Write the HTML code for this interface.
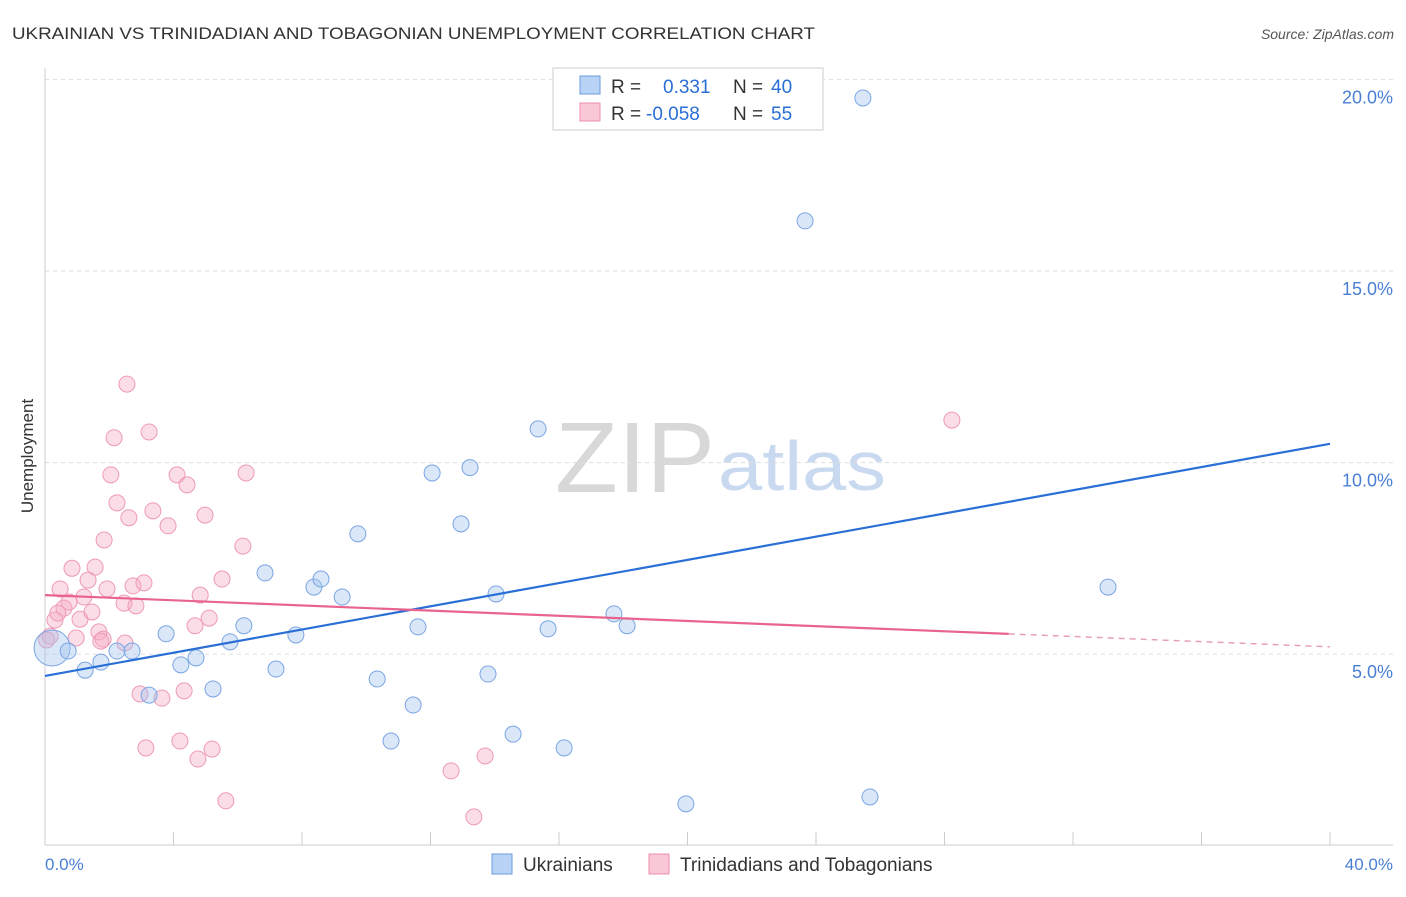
<!DOCTYPE html>
<html><head><meta charset="utf-8"><style>
body{margin:0;background:#fff;font-family:"Liberation Sans",sans-serif;}
svg text{font-family:"Liberation Sans",sans-serif;}
</style></head><body>
<svg id="chart" width="1406" height="892" viewBox="0 0 1406 892" xmlns="http://www.w3.org/2000/svg">
<text x="12" y="39" font-size="17" fill="#333" textLength="803" lengthAdjust="spacingAndGlyphs">UKRAINIAN VS TRINIDADIAN AND TOBAGONIAN UNEMPLOYMENT CORRELATION CHART</text>
<text x="1394" y="39" font-size="14" fill="#555" font-style="italic" text-anchor="end">Source: ZipAtlas.com</text>
<g>
<text x="635" y="492" font-size="100" font-family="Liberation Serif" fill="#d8d8d8" text-anchor="middle" textLength="160" lengthAdjust="spacingAndGlyphs">ZIP</text>
<text x="802" y="490" font-size="70" fill="#c9d9f0" text-anchor="middle" textLength="168" lengthAdjust="spacingAndGlyphs">atlas</text>
</g>
<g id="grid"></g>
<line x1="45" y1="68" x2="45" y2="845" stroke="#ccc"/>
<line x1="45" y1="845" x2="1393" y2="845" stroke="#ccc"/>
<g id="xticks"></g>
<text transform="translate(33,456) rotate(-90)" font-size="17" fill="#333" text-anchor="middle">Unemployment</text>
<text x="45" y="870" font-size="17" fill="#4a7fd4">0.0%</text>
<text x="1393" y="870" font-size="17" fill="#4a7fd4" text-anchor="end">40.0%</text>
<g id="pts"></g>
<g id="lines"></g>
<g>
<rect x="553" y="68" width="270" height="62" fill="#fff" stroke="#ccc"/>
<rect x="580" y="76" width="20" height="18" fill="#b8d3f5" stroke="#6c9be0"/>
<rect x="580" y="103" width="20" height="18" fill="#f9c7d6" stroke="#ee8faf"/>
<text x="611" y="93" font-size="19" fill="#333">R =</text>
<text x="663" y="93" font-size="19" fill="#2a6fd6">0.331</text>
<text x="733" y="93" font-size="19" fill="#333">N =</text>
<text x="771" y="93" font-size="19" fill="#2a6fd6">40</text>
<text x="611" y="120" font-size="19" fill="#333">R =</text>
<text x="646" y="120" font-size="19" fill="#2a6fd6">-0.058</text>
<text x="733" y="120" font-size="19" fill="#333">N =</text>
<text x="771" y="120" font-size="19" fill="#2a6fd6">55</text>
</g>
<g>
<rect x="492" y="854" width="20" height="20" fill="#b8d3f5" stroke="#6c9be0"/>
<text x="523" y="871" font-size="19" fill="#333">Ukrainians</text>
<rect x="649" y="854" width="20" height="20" fill="#f9c7d6" stroke="#ee8faf"/>
<text x="680" y="871" font-size="19" fill="#333">Trinidadians and Tobagonians</text>
</g>
</svg>
<script>
const yTicks=[5,10,15,20];
const yTickLabels=["5.0%","10.0%","15.0%","20.0%"];
const blueX=[0.22,0.72,1.25,1.74,2.24,2.71,3.24,3.77,4.23,4.70,5.23,5.76,6.19,6.85,7.19,7.81,8.37,8.59,9.25,9.74,10.34,10.77,11.46,11.61,12.05,12.95,13.23,13.79,14.04,14.57,15.35,15.66,16.16,17.71,18.12,19.95,23.66,25.46,25.68,33.09];
const blueY=[5.16,5.08,4.58,4.79,5.08,5.08,3.93,5.53,4.72,4.90,4.09,5.32,5.74,7.12,4.61,5.50,6.75,6.96,6.49,8.14,4.35,2.73,3.67,5.71,9.73,8.40,9.87,4.48,6.57,2.91,10.88,5.66,2.55,6.05,5.74,1.09,16.31,19.52,1.27,6.75];
const pinkX=[0.16,0.31,0.47,0.59,0.75,0.84,0.97,1.09,1.21,1.34,1.46,1.56,1.68,1.81,1.84,1.93,2.05,2.15,2.24,2.46,2.55,2.61,2.74,2.83,2.96,3.08,3.14,3.24,3.36,3.64,3.83,4.11,4.20,4.33,4.42,4.67,4.76,4.83,4.98,5.11,5.20,5.51,5.63,6.16,6.26,12.64,13.35,13.70,28.23,0.40,0.05,1.74,2.49];
const pinkY=[5.47,5.89,6.70,6.20,6.36,7.24,5.42,5.91,6.49,6.93,6.10,7.27,5.58,5.39,7.98,6.70,9.68,10.65,8.95,6.33,12.05,8.56,6.78,6.26,3.96,6.86,2.55,10.80,8.74,3.85,8.35,9.68,2.73,4.04,9.42,5.74,2.26,6.54,8.63,5.94,2.52,6.96,1.17,7.82,9.73,1.95,0.75,2.34,11.11,6.07,5.37,5.34,5.29];
const blueTrend=[4.43,10.49];
const pinkTrend=[6.54,5.19];
const pinkSolidEnd=30.0;
const NS="http://www.w3.org/2000/svg";
const sx=v=>45+v/40*1285;
const sy=v=>845.6-v*38.3;
function mk(t,a,p){const e=document.createElementNS(NS,t);for(const k in a)e.setAttribute(k,a[k]);p.appendChild(e);return e;}
const grid=document.getElementById('grid');
yTicks.forEach((t,i)=>{
 const l=mk('line',{x1:45,x2:1393,y1:sy(t),y2:sy(t),stroke:'#ddd','stroke-dasharray':'4,4'},grid);
 
 
 const tx=mk('text',{x:1393,y:sy(t)+24,'font-size':18,fill:'#4a7fd4','text-anchor':'end'},grid);
 tx.textContent=yTickLabels[i];
 
 
});
const xt=document.getElementById('xticks');
for(let i=1;i<=10;i++){const l=mk('line',{x1:sx(i*4),x2:sx(i*4),y1:832,y2:845,stroke:'#ccc'},xt);
 
 }
const pts=document.getElementById('pts');
pinkX.forEach((x,i)=>{const c=mk('circle',{cx:sx(x),cy:sy(pinkY[i]),r:8,fill:'rgba(246,170,195,0.4)',stroke:'#ee9ab6','stroke-width':1},pts);
 
 });
blueX.forEach((x,i)=>{const c=mk('circle',{cx:sx(x),cy:sy(blueY[i]),r:i==0?18:8,fill:'rgba(160,195,240,0.4)',stroke:'#7aa5e3','stroke-width':1},pts);
 
 });
const lines=document.getElementById('lines');
const py=x=>pinkTrend[0]+(pinkTrend[1]-pinkTrend[0])*x/40;
let l1=mk('line',{x1:sx(0),y1:sy(blueTrend[0]),x2:sx(40),y2:sy(blueTrend[1]),stroke:'#2a6fd6','stroke-width':2.2},lines);


let l2=mk('line',{x1:sx(0),y1:sy(py(0)),x2:sx(pinkSolidEnd),y2:sy(py(pinkSolidEnd)),stroke:'#e8648f','stroke-width':2.2},lines);


let l3=mk('line',{x1:sx(pinkSolidEnd),y1:sy(py(pinkSolidEnd)),x2:sx(40),y2:sy(py(40)),stroke:'#e8a0b8','stroke-width':1.5,'stroke-dasharray':'6,5'},lines);


</script>
</body></html>
